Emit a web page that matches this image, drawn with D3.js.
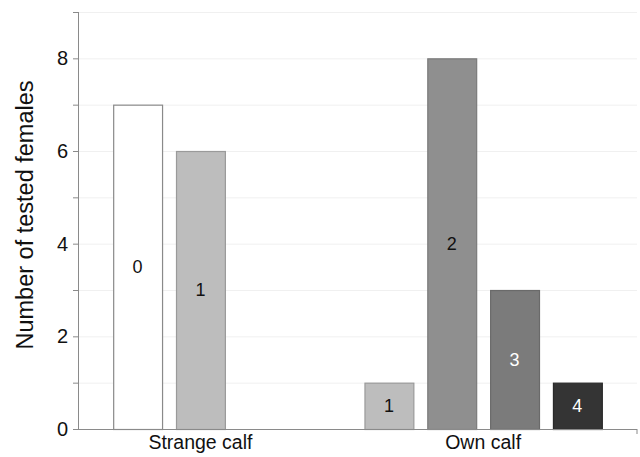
<!DOCTYPE html>
<html>
<head>
<meta charset="utf-8">
<script src="https://cdn.jsdelivr.net/npm/d3@7/dist/d3.min.js"></script>
<style>
  html, body { margin: 0; padding: 0; background: #fff; }
  svg { display: block; font-family: "Liberation Sans", Arial, sans-serif; }
</style>
</head>
<body>
<svg id="chart" width="640" height="457"></svg>
<script>
// Groups and the number of tested females for each response level
const categories = ["Strange calf", "Own calf"];
const strangeLevels = [0, 1];
const strangeCounts = [7, 6];
const ownLevels = [1, 2, 3, 4];
const ownCounts = [1, 8, 3, 1];
const yTicks = [0, 1, 2, 3, 4, 5, 6, 7, 8, 9];
const yTickLabels = ["0", "", "2", "", "4", "", "6", "", "8", ""];

// Fill per response level
const levelFill = { 0: "#ffffff", 1: "#bdbdbd", 2: "#8f8f8f", 3: "#7b7b7b", 4: "#343434" };
const levelStroke = { 0: "#8a8a8a", 1: "#9a9a9a", 2: "#7a7a7a", 3: "#6a6a6a", 4: "#2a2a2a" };
const levelText = { 0: "#111", 1: "#111", 2: "#111", 3: "#fff", 4: "#fff" };

const bars = [
  ...strangeLevels.map((l, i) => ({ group: categories[0], level: l, value: strangeCounts[i], slot: "S" + l })),
  ...ownLevels.map((l, i) => ({ group: categories[1], level: l, value: ownCounts[i], slot: "O" + l }))
];

// Slot layout: strange-calf bars, two empty slots, then own-calf bars
const slots = ["S0", "S1", "g1", "g2", "O1", "O2", "O3", "O4"];
// Group captions sit between these pairs of slots
const captionSlots = [["S1", "S1"], ["O2", "O3"]];

const svg = d3.select("#chart");
const m = { left: 78, right: 637, top: 12, bottom: 429 };

const x = d3.scaleBand().domain(slots).range([m.left, m.right])
  .paddingInner(0.222).paddingOuter(0.56);
const y = d3.scaleLinear().domain([0, 9]).range([m.bottom, m.top]);
const cx = s => x(s) + x.bandwidth() / 2;

// Faint horizontal gridlines
svg.append("g").selectAll("line").data(yTicks.filter(d => d > 0)).join("line")
  .attr("x1", m.left).attr("x2", m.right)
  .attr("y1", d => y(d) + 0.5).attr("y2", d => y(d) + 0.5)
  .attr("stroke", "#f0f0f0").attr("stroke-width", 1);

// Bars
svg.append("g").selectAll("rect").data(bars).join("rect")
  .attr("x", d => x(d.slot) + 0.5)
  .attr("y", d => y(d.value) + 0.5)
  .attr("width", x.bandwidth())
  .attr("height", d => y(0) - y(d.value))
  .attr("fill", d => levelFill[d.level])
  .attr("stroke", d => levelStroke[d.level])
  .attr("stroke-width", 1.2);

// Level labels centred in each bar
svg.append("g").selectAll("text").data(bars).join("text")
  .attr("x", d => cx(d.slot))
  .attr("y", d => (y(d.value) + y(0)) / 2)
  .attr("dy", "0.36em")
  .attr("text-anchor", "middle")
  .attr("font-size", 18)
  .attr("fill", d => levelText[d.level])
  .text(d => d.level);

// Y axis
const yAxis = svg.append("g").attr("transform", `translate(${m.left},0)`)
  .call(d3.axisLeft(y).tickValues(yTicks).tickSize(5).tickPadding(5)
    .tickFormat((d, i) => yTickLabels[i]));
yAxis.select(".domain").attr("stroke", "#8a8a8a").attr("d", `M0.5,${m.top}V${m.bottom}`);
yAxis.selectAll(".tick line").attr("stroke", "#8a8a8a");
yAxis.selectAll(".tick text").attr("font-size", 20).attr("fill", "#111")
  .attr("font-family", "Liberation Sans, Arial, sans-serif");

// X axis line with end tick
svg.append("line").attr("x1", m.left - 5).attr("x2", m.right)
  .attr("y1", m.bottom + 0.5).attr("y2", m.bottom + 0.5).attr("stroke", "#8a8a8a");
svg.append("line").attr("x1", m.right).attr("x2", m.right)
  .attr("y1", m.bottom).attr("y2", m.bottom + 5).attr("stroke", "#8a8a8a");

// Group captions
svg.append("g").selectAll("text").data(categories).join("text")
  .attr("x", (d, i) => (cx(captionSlots[i][0]) + cx(captionSlots[i][1])) / 2)
  .attr("y", 449)
  .attr("text-anchor", "middle").attr("font-size", 19.5).attr("fill", "#111")
  .text(d => d);

// Y axis title
svg.append("text")
  .attr("transform", `translate(33,215) rotate(-90)`)
  .attr("text-anchor", "middle").attr("font-size", 23.5).attr("fill", "#111")
  .text("Number of tested females");
</script>
</body>
</html>
